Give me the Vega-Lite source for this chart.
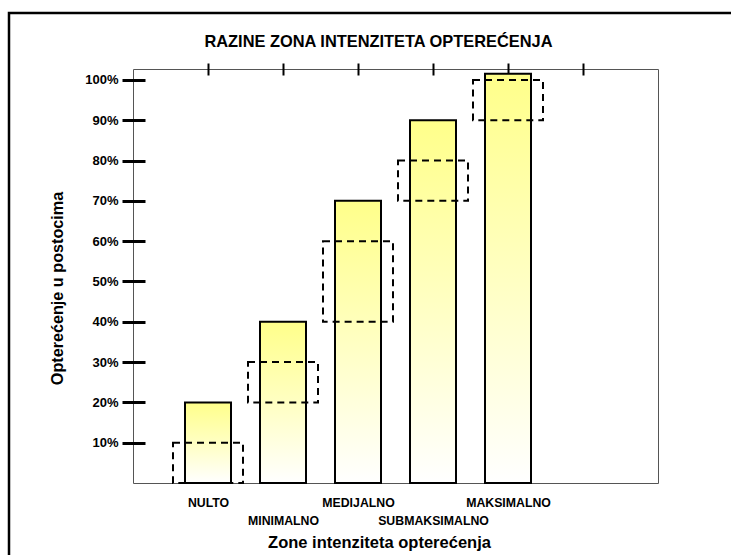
{
  "$schema": "https://vega.github.io/schema/vega-lite/v6.json",
  "autosize": {"type": "none"},
  "padding": {"left": 133, "top": 69, "right": 73, "bottom": 72},
  "width": 525,
  "height": 414,
  "background": "white",
  "config": {
    "font": "Liberation Sans",
    "view": {"stroke": "#555555", "strokeWidth": 1},
    "legend": {"strokeWidth": 2.5, "strokeDash": [722, 1262, 2600, 0]}
  },
  "title": {
    "text": "RAZINE ZONA INTENZITETA OPTEREĆENJA",
    "font": "Liberation Sans",
    "fontSize": 16.4,
    "fontWeight": "bold",
    "color": "black",
    "anchor": "middle",
    "frame": "group",
    "dx": -17,
    "baseline": "alphabetic",
    "offset": -52
  },
  "data": {
    "values": [
      {"zona": "NULTO", "opterecenje": 0.2, "od": 0.0, "do": 0.1},
      {"zona": "MINIMALNO", "opterecenje": 0.4, "od": 0.2, "do": 0.3},
      {"zona": "MEDIJALNO", "opterecenje": 0.7, "od": 0.4, "do": 0.6},
      {"zona": "SUBMAKSIMALNO", "opterecenje": 0.9, "od": 0.7, "do": 0.8},
      {"zona": "MAKSIMALNO", "opterecenje": 1.015, "od": 0.9, "do": 1.0}
    ]
  },
  "resolve": {"axis": {"x": "independent"}},
  "layer": [
    {
      "mark": {
        "type": "bar",
        "width": 46,
        "stroke": "black",
        "strokeWidth": 2,
        "fill": {
          "gradient": "linear",
          "x1": 0, "y1": 0, "x2": 0, "y2": 1,
          "stops": [
            {"offset": 0, "color": "#ffff8a"},
            {"offset": 0.55, "color": "#ffffc8"},
            {"offset": 1, "color": "#ffffff"}
          ]
        }
      },
      "encoding": {
        "x": {
          "field": "zona",
          "type": "nominal",
          "scale": {
            "type": "point",
            "domain": ["NULTO", "MINIMALNO", "MEDIJALNO", "SUBMAKSIMALNO", "MAKSIMALNO", " "],
            "padding": 1
          },
          "axis": {
            "orient": "bottom",
            "domain": false,
            "ticks": false,
            "labelAngle": 0,
            "labelAlign": "center",
            "labelBaseline": "top",
            "labelPadding": 13,
            "labelFontSize": 12.3,
            "labelFontWeight": "bold",
            "labelColor": "black",
            "labelLineHeight": 18,
            "labelOverlap": false,
            "labelBound": false,
            "labelExpr": "round(datum.index * 5) % 2 == 1 ? ['', datum.label] : datum.label",
            "title": "Zone intenziteta opterećenja",
            "titleFontSize": 16.5,
            "titleFontWeight": "bold",
            "titleColor": "black",
            "titleX": 246,
            "titleY": 64,
            "titleAlign": "center",
            "titleBaseline": "alphabetic"
          }
        },
        "y": {
          "field": "opterecenje",
          "type": "quantitative",
          "scale": {"domain": [0, 1.027], "nice": false, "zero": true},
          "axis": {
            "orient": "left",
            "offset": -12,
            "domain": false,
            "grid": false,
            "values": [0.1, 0.2, 0.3, 0.4, 0.5, 0.6, 0.7, 0.8, 0.9, 1.0],
            "format": ".0%",
            "tickSize": 23,
            "tickWidth": 3,
            "tickColor": "black",
            "labelPadding": 4,
            "labelFontSize": 13,
            "labelFontWeight": "bold",
            "labelColor": "black",
            "title": "Opterećenje u postocima",
            "titleFontSize": 16.2,
            "titleFontWeight": "bold",
            "titleColor": "black",
            "titleAngle": -90,
            "titleX": -88,
            "titleY": 219,
            "titleAlign": "center",
            "titleBaseline": "middle"
          }
        }
      }
    },
    {
      "mark": {
        "type": "bar",
        "width": 70,
        "fill": "transparent",
        "stroke": "black",
        "strokeWidth": 2,
        "strokeDash": [7, 5]
      },
      "encoding": {
        "x": {
          "field": "zona",
          "type": "nominal",
          "axis": {
            "orient": "top",
            "offset": -6,
            "domain": false,
            "labels": false,
            "tickSize": 12,
            "tickWidth": 2,
            "tickColor": "black",
            "title": null
          }
        },
        "y": {"field": "od", "type": "quantitative"},
        "y2": {"field": "do"},
        "opacity": {
          "datum": "",
          "type": "nominal",
          "scale": {"range": [1, 1]},
          "legend": {
            "orient": "none",
            "legendX": -124,
            "legendY": -56,
            "padding": 600,
            "strokeColor": "black",
            "title": null,
            "symbolSize": 0,
            "symbolStrokeWidth": 0,
            "symbolOpacity": 0,
            "labelOpacity": 0
          }
        }
      }
    }
  ]
}
